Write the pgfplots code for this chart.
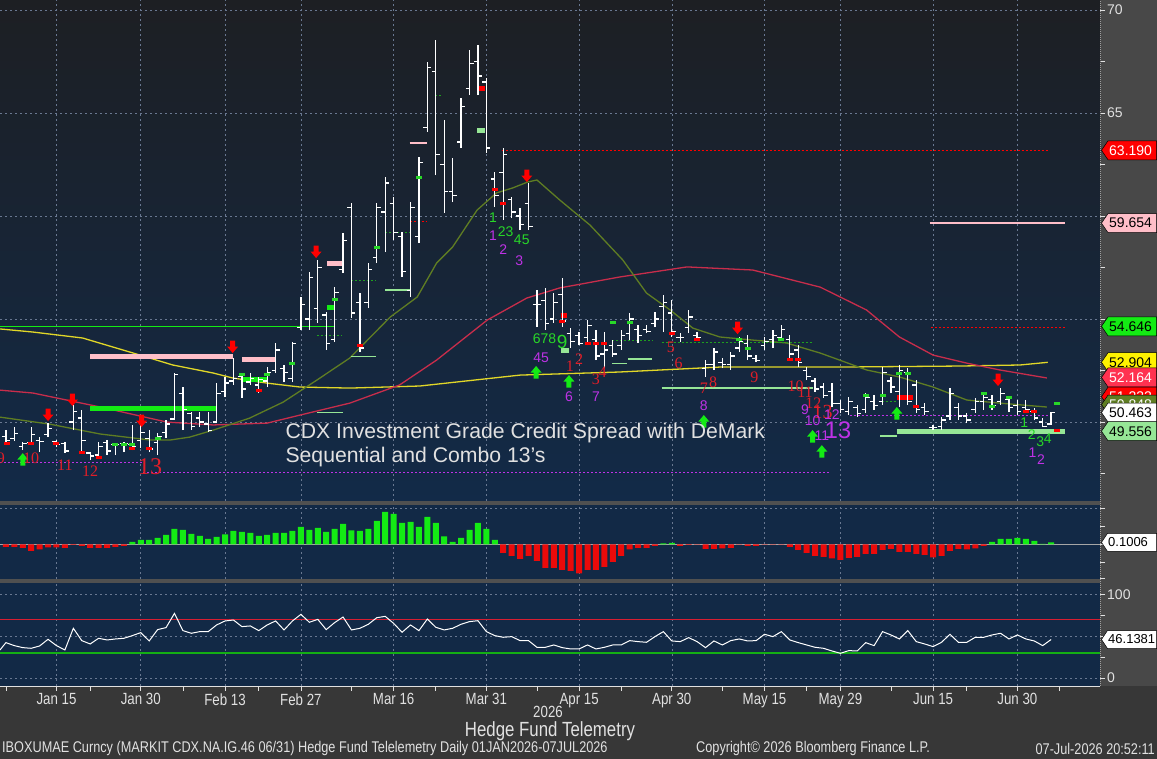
\documentclass[border=0pt]{standalone}
\usepackage{pgfplots}
\pgfplotsset{compat=1.18}
\usepackage{pgfplotstable}
\usepackage{fontspec}
\setmainfont{Liberation Sans}
\newfontfamily\condfont[FakeStretch=0.82]{Liberation Sans}
\newfontfamily\serfont{Liberation Serif}

\definecolor{bgtop}{RGB}{29,31,35}
\definecolor{bgbot}{RGB}{18,42,72}
\definecolor{navy}{RGB}{18,41,70}
\definecolor{frame}{RGB}{55,55,55}
\definecolor{strip}{RGB}{72,72,72}
\definecolor{sepc}{RGB}{80,80,80}
\definecolor{gridc}{RGB}{105,120,145}
\definecolor{maY}{RGB}{225,215,40}
\definecolor{maR}{RGB}{200,45,75}
\definecolor{maO}{RGB}{95,125,35}
\definecolor{tdred}{RGB}{225,30,40}
\definecolor{tdgreen}{RGB}{40,215,40}
\definecolor{tdmag}{RGB}{190,50,230}
\definecolor{hgreen}{RGB}{20,235,20}
\definecolor{hred}{RGB}{235,10,10}
\definecolor{lgreen}{RGB}{150,230,150}
\definecolor{pinkc}{RGB}{255,190,200}
\definecolor{txtc}{RGB}{225,225,225}
\definecolor{crim}{RGB}{255,50,80}
\definecolor{dgreen}{RGB}{30,160,30}
\definecolor{rsired}{RGB}{215,30,50}
\definecolor{rsigreen}{RGB}{20,175,20}

\newcommand{\tagfont}{\fontsize{14}{14}\selectfont}
\newcommand{\valtag}[4]{%
  \draw[draw=black, line width=0.5pt, fill=#2] (axis cs:129.8,#1) ++(1.5pt,0pt) -- ++(6.5pt,9.5pt) -- ++(48.5pt,0pt) -- ++(0pt,-19pt) -- ++(-48.5pt,0pt) -- cycle;
  \node[anchor=west, inner sep=0pt, xshift=9pt, text=#3, font=\tagfont] at (axis cs:129.8,#1) {#4};}
\newcommand{\valtagS}[4]{%
  \draw[draw=black, line width=0.5pt, fill=#2] (axis cs:129.8,#1) ++(1.5pt,0pt) -- ++(6pt,9pt) -- ++(49pt,0pt) -- ++(0pt,-18pt) -- ++(-49pt,0pt) -- cycle;
  \node[anchor=west, inner sep=0pt, xshift=8pt, text=#3, font=\fontsize{13}{13}\selectfont] at (axis cs:129.8,#1) {#4};}
\newcommand{\tdR}{\serfont\fontsize{16}{16}\selectfont}
\newcommand{\tdS}{\fontsize{14}{14}\selectfont}

\pgfdeclareplotmark{otick}{\pgfpathmoveto{\pgfqpoint{-4pt}{0pt}}\pgfpathlineto{\pgfqpoint{0pt}{0pt}}\pgfusepathqstroke}
\pgfdeclareplotmark{ctick}{\pgfpathmoveto{\pgfqpoint{0pt}{0pt}}\pgfpathlineto{\pgfqpoint{4pt}{0pt}}\pgfusepathqstroke}
\pgfdeclareplotmark{hbar}{\pgfpathrectangle{\pgfqpoint{-3pt}{-1.5pt}}{\pgfqpoint{6pt}{3pt}}\pgfusepathqfill}
\pgfdeclareplotmark{darrow}{%
 \pgfpathmoveto{\pgfqpoint{-2.5pt}{6.5pt}}\pgfpathlineto{\pgfqpoint{2.5pt}{6.5pt}}%
 \pgfpathlineto{\pgfqpoint{2.5pt}{0.5pt}}\pgfpathlineto{\pgfqpoint{5.5pt}{0.5pt}}%
 \pgfpathlineto{\pgfqpoint{0pt}{-6pt}}\pgfpathlineto{\pgfqpoint{-5.5pt}{0.5pt}}%
 \pgfpathlineto{\pgfqpoint{-2.5pt}{0.5pt}}\pgfpathclose\pgfusepathqfill}
\pgfdeclareplotmark{uarrow}{%
 \pgfpathmoveto{\pgfqpoint{-2.5pt}{-6.5pt}}\pgfpathlineto{\pgfqpoint{2.5pt}{-6.5pt}}%
 \pgfpathlineto{\pgfqpoint{2.5pt}{-0.5pt}}\pgfpathlineto{\pgfqpoint{5.5pt}{-0.5pt}}%
 \pgfpathlineto{\pgfqpoint{0pt}{6pt}}\pgfpathlineto{\pgfqpoint{-5.5pt}{-0.5pt}}%
 \pgfpathlineto{\pgfqpoint{-2.5pt}{-0.5pt}}\pgfpathclose\pgfusepathqfill}

\pgfplotstableread{
k h l o c
0 49.61 48.98 49.30 49.10
1 49.76 49.08 49.20 49.45
2 49.03 48.64 48.80 48.95
3 49.76 48.88 49.00 49.40
4 49.27 48.54 49.10 49.05
5 49.95 49.27 49.40 49.70
6 49.13 48.79 49.05 48.90
7 49.03 48.50 48.95 48.60
8 50.83 49.61 50.00 50.50
9 50.58 48.54 50.20 49.10
10 48.54 48.16 48.50 48.35
11 49.03 48.25 48.40 48.80
12 49.13 48.40 49.00 48.60
13 48.98 48.40 48.90 48.90
14 49.03 48.54 48.95 48.95
15 49.86 48.64 48.90 48.80
16 50.00 48.74 49.10 49.50
17 49.61 48.54 49.20 48.70
18 49.47 48.40 49.00 49.30
19 50.10 49.22 49.50 49.90
20 52.38 50.10 50.15 52.30
21 51.70 49.61 51.40 50.60
22 50.48 49.61 50.40 49.80
23 50.48 49.76 50.20 50.00
24 50.48 49.52 49.90 49.60
25 51.89 49.95 50.00 51.40
26 52.19 51.21 51.50 51.90
27 53.11 51.80 52.00 52.10
28 52.38 51.17 52.20 51.60
29 52.38 51.80 51.95 52.10
30 52.19 51.41 51.80 52.05
31 52.67 51.70 52.00 52.40
32 53.84 52.38 52.50 53.50
33 52.77 51.94 52.60 52.40
34 53.88 51.94 52.10 53.80
35 56.07 54.47 54.60 55.70
36 57.28 54.47 55.00 57.00
37 57.86 54.81 55.50 57.50
38 55.34 53.50 55.20 53.80
39 56.55 53.88 54.00 56.30
40 59.18 57.23 57.40 58.80
41 60.63 55.05 60.40 55.30
42 56.26 53.40 55.80 53.60
43 57.72 55.53 55.80 57.40
44 60.63 57.72 58.00 60.40
45 61.89 58.25 60.20 61.60
46 60.92 58.84 60.60 59.20
47 59.22 57.04 59.00 57.30
48 60.68 56.07 56.40 60.40
49 62.86 58.69 59.00 62.60
50 67.48 64.08 64.30 67.20
51 68.54 61.99 67.00 63.00
52 64.66 60.15 62.50 61.20
53 62.82 60.68 61.20 61.00
54 65.73 63.30 63.60 65.30
55 68.06 65.87 66.20 67.40
56 68.30 65.87 67.50 66.80
57 66.70 63.06 66.50 63.30
58 62.14 60.44 61.80 61.00
59 63.30 59.81 62.10 63.00
60 60.92 59.90 60.80 60.20
61 60.39 59.32 60.00 59.60
62 61.60 59.32 60.60 59.50
63 56.41 54.61 55.70 55.70
64 56.51 54.47 55.90 54.80
65 56.26 54.81 55.00 55.80
66 56.99 54.61 56.20 54.90
67 54.56 53.59 54.30 53.90
68 54.37 53.74 54.20 53.80
69 54.95 53.74 54.10 54.70
70 54.47 53.01 54.00 53.20
71 54.37 52.62 53.30 53.50
72 53.98 53.16 53.70 53.30
73 54.47 53.50 53.70 54.20
74 55.29 53.98 54.30 55.00
75 54.71 53.84 54.50 54.20
76 54.71 54.32 54.50 54.40
77 55.34 54.61 54.80 55.00
78 56.16 54.37 55.60 55.80
79 55.92 54.13 55.30 54.40
80 54.32 53.88 54.10 54.10
81 55.44 54.32 54.60 55.10
82 54.37 53.98 54.20 54.10
83 53.01 52.19 52.60 52.80
84 53.59 52.53 52.80 53.40
85 53.11 52.62 52.90 52.80
86 53.40 52.53 52.80 53.20
87 54.13 53.40 53.60 53.90
88 54.22 53.01 53.80 53.20
89 53.25 52.91 53.10 53.00
90 54.13 53.50 53.70 53.90
91 54.47 53.59 54.00 54.20
92 54.71 53.98 54.10 54.50
93 54.22 53.01 54.00 53.30
94 53.74 52.67 53.50 52.90
95 52.67 52.04 52.50 52.20
96 52.14 51.46 52.00 51.60
97 51.89 51.17 51.70 51.30
98 51.89 50.73 51.50 50.90
99 51.07 50.44 50.90 50.60
100 51.21 50.34 50.50 51.00
101 50.83 50.24 50.70 50.40
102 51.41 50.44 50.60 51.20
103 51.31 50.58 51.00 50.80
104 52.67 50.83 51.00 52.40
105 52.19 51.41 52.00 51.70
106 52.77 50.73 51.50 52.50
107 52.62 50.83 52.40 51.00
108 52.04 50.44 51.80 50.60
109 50.92 50.34 50.70 50.50
110 49.86 49.61 49.75 49.75
111 50.24 49.61 49.80 50.10
112 51.65 50.10 50.30 51.40
113 50.92 50.10 50.70 50.30
114 50.44 49.95 50.30 50.10
115 51.17 50.44 50.60 51.00
116 51.41 50.58 51.00 51.20
117 51.31 50.58 51.10 50.80
118 51.65 50.83 51.00 51.40
119 51.21 50.48 51.10 50.70
120 51.07 50.34 50.80 50.50
121 51.07 50.48 50.70 50.60
122 50.68 50.10 50.50 50.20
123 50.19 49.76 50.00 49.80
124 50.48 49.86 49.90 50.46
}\ohlc

\pgfplotstableread{
k v
0 -0.12
1 -0.12
2 -0.17
3 -0.32
4 -0.25
5 -0.15
6 -0.15
7 -0.17
8 -0.02
9 -0.07
10 -0.17
11 -0.17
12 -0.17
13 -0.12
14 -0.07
15 0.12
16 0.22
17 0.22
18 0.33
19 0.47
20 0.77
21 0.73
22 0.52
23 0.42
24 0.27
25 0.37
26 0.50
27 0.67
28 0.62
29 0.57
30 0.43
31 0.47
32 0.57
33 0.57
34 0.67
35 0.87
36 0.73
37 0.82
38 0.63
39 0.77
40 1.02
41 0.70
42 0.68
43 0.77
44 1.17
45 1.62
46 1.52
47 1.07
48 1.12
49 0.87
50 1.37
51 1.07
52 0.40
53 0.12
54 0.32
55 0.73
56 1.07
57 0.78
58 0.22
59 -0.42
60 -0.58
61 -0.72
62 -0.58
63 -0.83
64 -1.17
65 -1.17
66 -1.28
67 -1.33
68 -1.45
69 -1.28
70 -1.28
71 -1.12
72 -0.87
73 -0.58
74 -0.25
75 -0.17
76 -0.17
77 -0.07
78 0.05
79 0.08
80 -0.07
81 -0.02
82 -0.01
83 -0.23
84 -0.23
85 -0.20
86 -0.17
87 -0.01
88 -0.07
89 -0.07
90 -0.01
91 -0.01
92 -0.01
93 -0.12
94 -0.28
95 -0.42
96 -0.58
97 -0.62
98 -0.70
99 -0.78
100 -0.67
101 -0.62
102 -0.48
103 -0.48
104 -0.28
105 -0.23
106 -0.37
107 -0.37
108 -0.48
109 -0.53
110 -0.65
111 -0.57
112 -0.32
113 -0.23
114 -0.25
115 -0.20
116 -0.07
117 0.12
118 0.27
119 0.27
120 0.33
121 0.27
122 0.17
123 0.02
124 0.10
}\hist

\pgfplotstableread{
k v
-0.7 33.6
0 42.4
1 38.8
2 36.4
3 35.6
4 38.4
5 46.4
6 38.8
7 33.6
8 59.6
9 44.8
10 40.8
11 47.6
12 45.6
13 46.8
14 47.6
15 50.8
16 54.4
17 44.4
18 58.0
19 60.4
20 77.5
21 56.8
22 53.6
23 55.6
24 55.6
25 63.6
26 68.4
27 69.5
28 61.6
29 62.4
30 56.8
31 63.6
32 68.4
33 57.6
34 68.4
35 76.3
36 66.8
37 70.3
38 58.0
39 66.4
40 73.1
41 57.6
42 59.6
43 64.4
44 72.3
45 73.9
46 65.5
47 54.8
48 63.6
49 56.8
50 70.7
51 60.8
52 57.6
53 59.6
54 64.4
55 67.6
56 68.7
57 55.6
58 50.8
59 48.8
60 49.6
61 44.8
62 44.8
63 36.8
64 36.8
65 39.6
66 36.4
67 34.8
68 34.8
69 39.6
70 34.8
71 36.8
72 39.6
73 39.6
74 44.8
75 43.6
76 42.8
77 49.6
78 55.6
79 44.4
80 43.6
81 48.4
82 43.6
83 36.4
84 44.4
85 39.6
86 44.8
87 46.8
88 44.4
89 44.8
90 52.4
91 49.6
92 55.6
93 45.6
94 42.4
95 39.6
96 36.8
97 35.6
98 32.4
99 29.6
100 32.8
101 32.4
102 42.4
103 38.8
104 55.6
105 51.6
106 46.8
107 56.8
108 43.6
109 40.8
110 37.6
111 42.8
112 52.4
113 42.8
114 42.8
115 48.8
116 48.8
117 51.6
118 53.6
119 46.8
120 51.6
121 46.8
122 44.4
123 38.8
124 46.14
}\rsi

\pgfplotsset{
  panel/.style={
    anchor=south west, scale only axis, width=1100pt,
    xmin=-0.7, xmax=129.8, clip mode=individual,
    axis line style={draw=none},
    xtick={6,16,26,35,46,57,68,79,90,99,110,120},
    xmajorgrids,
    major grid style={gridc, dash pattern=on 2pt off 3pt, line width=0.6pt},
    tick align=outside, major tick length=5pt, minor tick length=5pt,
    every tick/.style={txtc, line width=0.8pt},
    ytick pos=right, yticklabel pos=right,
    /pgf/number format/assume math mode=true,
    yticklabel style={font=\tagfont, text=txtc, xshift=1pt, inner sep=1pt},
  }
}

\begin{document}
\begin{tikzpicture}[x=1pt,y=1pt]
\fill[frame] (0,0) rectangle (1157,759);
\fill[strip] (1100,73) rectangle (1157,759);
\shade[top color=bgtop, bottom color=bgbot] (0,258) rectangle (1100,759);
\fill[sepc] (0,254) rectangle (1100,258);
\fill[navy] (0,180) rectangle (1100,254);
\fill[sepc] (0,176) rectangle (1100,180);
\fill[navy] (0,73) rectangle (1100,176);

% ---------------- main price panel
\begin{axis}[panel, at={(0pt,258pt)}, height=501pt,
  ymin=46.17, ymax=70.485,
  xticklabels={}, xtick style={draw=none},
  ytick={50,55,60,65,70}, yticklabels={,,,65,70},
  minor ytick={47.5,52.5,57.5,62.5,67.5},
  ymajorgrids]
\addplot[maY, line width=1.3pt] coordinates {(-0.7,54.52) (3.2,54.37) (9.1,54.08) (15.1,53.35) (19.8,52.77) (24.6,52.38) (26.9,52.14) (31.0,51.89) (34.9,51.70) (40.8,51.65) (49.1,51.75) (61.0,52.28) (72.8,52.43) (84.7,52.67) (98.9,52.67) (113.2,52.72) (120.3,52.77) (123.6,52.90)};
\addplot[maR, line width=1.3pt] coordinates {(-0.7,51.55) (3.2,51.41) (11.2,50.73) (19.1,50.00) (24.6,49.86) (31.0,49.95) (34.9,50.34) (40.8,50.92) (46.7,51.80) (51.1,53.01) (57.1,54.95) (61.8,56.02) (65.7,56.51) (72.8,57.04) (80.8,57.53) (88.6,57.38) (96.6,56.55) (102.1,55.44) (106.0,54.13) (110.0,53.25) (114.0,52.86) (117.9,52.53) (123.5,52.14)};
\addplot[maO, line width=1.3pt] coordinates {(-0.7,50.24) (5.2,49.90) (11.2,49.42) (17.1,49.13) (19.5,49.13) (21.8,49.27) (24.6,49.61) (28.9,50.19) (32.9,50.97) (36.9,52.04) (40.8,53.11) (45.6,55.10) (48.8,56.07) (51.1,57.72) (53.0,58.50) (55.9,60.29) (58.2,61.12) (60.1,61.36) (61.9,61.65) (63.0,61.75) (65.7,60.78) (69.3,59.56) (73.2,57.86) (76.0,56.26) (78.8,55.44) (81.5,54.56) (84.7,54.13) (88.6,53.98) (92.6,53.84) (96.6,53.35) (98.9,53.01) (102.1,52.53) (106.0,52.19) (110.0,51.70) (114.0,51.07) (117.9,50.92) (123.5,50.73)};
% level lines
\addplot[hgreen, line width=1pt] coordinates {(-0.7,54.646) (39,54.646)};
\addplot[red, dash pattern=on 2pt off 2pt, line width=0.9pt] coordinates {(58.8,63.19) (123.6,63.19)};
\addplot[red, dash pattern=on 2pt off 2pt, line width=0.9pt] coordinates {(109.8,54.61) (125.6,54.61)};
\addplot[red, dash pattern=on 2pt off 2pt, line width=0.9pt] coordinates {(47.9,59.76) (49.9,59.76)};
\addplot[pinkc, line width=1.5pt] coordinates {(109.6,59.654) (125.6,59.654)};
\addplot[pinkc, line width=1.5pt] coordinates {(47.9,63.54) (49.9,63.54)};
\addplot[tdmag, dash pattern=on 2pt off 2pt, line width=1pt] coordinates {(-0.7,48.06) (16.3,48.06)};
\addplot[tdmag, dash pattern=on 2pt off 2pt, line width=1pt] coordinates {(16.3,47.53) (97.7,47.53)};
\addplot[tdmag, dash pattern=on 2pt off 2pt, line width=1pt] coordinates {(100.1,50.34) (123.6,50.34)};
\addplot[dgreen, dash pattern=on 2pt off 2pt, line width=1pt, unbounded coords=jump] coordinates {(41.0,56.89) (43.9,56.89) (44,nan) (45.0,59.18) (47.9,59.18) (48,nan) (36.9,54.18) (39.9,54.18) (40,nan) (71.9,53.98) (76.7,53.98) (77,nan) (77.8,53.88) (95.6,53.88) (96,nan) (103.9,51.02) (105.7,51.02) (106,nan) (50.9,65.83) (51.6,65.83)};
\addplot[lgreen, line width=1.2pt, unbounded coords=jump] coordinates {(41.0,53.20) (43.9,53.20) (44,nan) (45.0,56.41) (47.9,56.41) (48,nan) (71.9,52.86) (73.7,52.86) (73.75,nan) (73.8,53.06) (76.7,53.06) (77,nan) (77.8,51.65) (95.7,51.65) (96,nan) (103.7,49.32) (105.7,49.32) (106,nan) (36.9,50.48) (40.0,50.48)};
% thick bars
\addplot[pinkc, line width=5pt, unbounded coords=jump] coordinates {(9.96,53.16) (26.9,53.16) (27,nan) (28.0,53.06) (31.9,53.06) (32,nan) (38.1,57.72) (39.9,57.72)};
\addplot[hgreen, line width=5pt, unbounded coords=jump] coordinates {(9.96,50.68) (25.0,50.68) (26,nan) (28.0,52.09) (31.0,52.09) (32,nan) (38.1,55.58) (38.9,55.58)};
\addplot[lgreen, line width=5pt, unbounded coords=jump] coordinates {(55.9,64.13) (56.8,64.13) (57,nan) (65.8,53.45) (66.8,53.45) (67,nan) (105.7,49.556) (125.6,49.556)};
\addplot[red, line width=5pt, unbounded coords=jump] coordinates {(55.9,66.21) (56.8,66.21) (57,nan) (65.8,55.19) (66.6,55.19) (67,nan) (105.7,51.17) (107.6,51.17)};
% OHLC bars
\addplot[draw=none, mark=none, error bars/.cd, y dir=plus, y explicit, error mark=none, error bar style={draw=white, solid, line width=1.3pt}] table[x=k, y=l, y error expr=\thisrow{h}-\thisrow{l}] {\ohlc};
\addplot[white, only marks, mark=otick, mark options={line width=1.3pt}] table[x=k, y=o] {\ohlc};
\addplot[white, only marks, mark=ctick, mark options={line width=1.3pt}] table[x=k, y=c] {\ohlc};
% small marks
\addplot[red, only marks, mark=hbar] coordinates {(0.1,48.98) (3,48.98) (6,48.98) (9,48.50) (11,48.30) (15,48.74) (17,48.74) (30,51.51) (42,53.74) (58,61.31) (59,60.63) (66,54.86) (69,53.79) (70,53.79) (71,53.79) (79,54.32) (82,54.03) (93,53.06) (94,53.06) (108,50.78) (121,50.53) (122,50.53) (124.7,49.61)};
\addplot[tdgreen, only marks, mark=hbar] coordinates {(13,48.93) (14,48.93) (15,48.93) (18,49.22) (28,52.33) (31,52.33) (34,52.82) (39,55.97) (44,58.45) (49,61.89) (72,54.81) (74,54.81) (87,54.03) (88,53.59) (92,54.03) (102,51.31) (104,51.31) (106,52.38) (107,52.38) (116,51.41) (117,50.78) (119,51.17) (124.7,50.92)};
% arrows
\addplot[red, only marks, mark=darrow] coordinates {(5.0,50.34) (7.9,51.07) (16.1,50.05) (26.9,53.64) (36.8,58.25) (61.8,61.94) (86.8,54.56) (117.7,52.04)};
\addplot[hgreen, only marks, mark=uarrow] coordinates {(2.0,48.20) (62.9,52.43) (66.8,51.99) (82.8,50.05) (95.7,49.32) (96.8,48.59) (105.7,50.44)};
% TD counts: red
\node[overlay, text=tdred, font=\tdR] at (axis cs:-0.6,48.25) {9};
\node[text=tdred, font=\tdR] at (axis cs:3.0,48.25) {10};
\node[text=tdred, font=\tdR] at (axis cs:7.0,47.91) {11};
\node[text=tdred, font=\tdR] at (axis cs:10.0,47.62) {12};
\node[text=tdred, font=\serfont\fontsize{24}{24}\selectfont] at (axis cs:17.1,47.82) {13};
\node[text=tdred, font=\tdR] at (axis cs:66.9,52.72) {1};
\node[text=tdred, font=\tdR] at (axis cs:68.0,53.06) {2};
\node[text=tdred, font=\tdR] at (axis cs:70.0,52.09) {3};
\node[text=tdred, font=\tdR] at (axis cs:70.8,52.43) {4};
\node[text=tdred, font=\tdR] at (axis cs:78.9,53.64) {5};
\node[text=tdred, font=\tdR] at (axis cs:79.8,52.86) {6};
\node[text=tdred, font=\tdR] at (axis cs:82.8,51.65) {7};
\node[text=tdred, font=\tdR] at (axis cs:83.9,51.94) {8};
\node[text=tdred, font=\tdR] at (axis cs:88.8,52.19) {9};
\node[text=tdred, font=\tdR] at (axis cs:93.7,51.75) {10};
\node[text=tdred, font=\tdR] at (axis cs:94.8,51.46) {11};
\node[text=tdred, font=\tdR] at (axis cs:95.8,50.92) {12};
\node[text=tdred, font=\serfont\fontsize{20}{20}\selectfont] at (axis cs:96.9,50.48) {13};
% green
\node[text=tdgreen, font=\tdS] at (axis cs:57.8,59.90) {1};
\node[text=tdgreen, font=\tdS] at (axis cs:59.3,59.22) {23};
\node[text=tdgreen, font=\tdS] at (axis cs:61.2,58.84) {45};
\node[text=tdgreen, font=\tdS] at (axis cs:63.9,54.03) {678};
\node[text=tdgreen, font=\fontsize{19}{19}\selectfont] at (axis cs:66.0,53.88) {9};
\node[text=tdgreen, font=\tdS] at (axis cs:120.8,49.95) {1};
\node[text=tdgreen, font=\tdS] at (axis cs:121.7,49.37) {2};
\node[text=tdgreen, font=\tdS] at (axis cs:122.7,49.03) {3};
\node[text=tdgreen, font=\tdS] at (axis cs:123.6,49.18) {4};
% magenta
\node[text=tdmag, font=\tdS] at (axis cs:57.8,59.03) {1};
\node[text=tdmag, font=\tdS] at (axis cs:59.0,58.35) {2};
\node[text=tdmag, font=\tdS] at (axis cs:60.9,57.82) {3};
\node[text=tdmag, font=\tdS] at (axis cs:63.5,53.11) {45};
\node[text=tdmag, font=\tdS] at (axis cs:66.8,51.21) {6};
\node[text=tdmag, font=\tdS] at (axis cs:70.0,51.21) {7};
\node[text=tdmag, font=\tdS] at (axis cs:82.8,50.78) {8};
\node[text=tdmag, font=\tdS] at (axis cs:94.8,50.58) {9};
\node[text=tdmag, font=\tdS] at (axis cs:95.7,50.05) {10};
\node[text=tdmag, font=\tdS] at (axis cs:96.8,49.32) {11};
\node[text=tdmag, font=\tdS] at (axis cs:98.0,50.34) {12};
\node[text=tdmag, font=\fontsize{24}{24}\selectfont] at (axis cs:98.7,49.61) {13};
\node[text=tdmag, font=\tdS] at (axis cs:121.8,48.50) {1};
\node[text=tdmag, font=\tdS] at (axis cs:122.8,48.20) {2};
% value tags
\valtag{63.19}{red}{white}{63.190}
\valtag{59.654}{pinkc}{black}{59.654}
\valtag{54.646}{hgreen}{black}{54.646}
\valtag{52.904}{yellow}{black}{52.904}
\valtag{52.164}{crim}{white}{52.164}
\valtag{51.232}{red}{white}{51.232}
\valtag{50.848}{maO}{white}{50.848}
\valtag{50.463}{white}{black}{50.463}
\valtag{49.556}{lgreen}{black}{49.556}
\end{axis}

% ---------------- histogram panel
\begin{axis}[panel, at={(0pt,180pt)}, height=74pt,
  ymin=-1.73, ymax=1.97,
  xticklabels={}, xtick style={draw=none},
  ytick={-1.7,-0.9,0,0.9,1.8}, yticklabels={}]
\draw[gridc, dash pattern=on 2pt off 3pt, line width=0.6pt] (axis cs:-0.7,1.8) -- (axis cs:129.8,1.8);
\draw[white!65!black, line width=0.8pt] (axis cs:-0.7,0) -- (axis cs:129.8,0);
\addplot[ybar, bar width=6pt, bar shift=0pt, fill=hgreen, draw=none, restrict y to domain=0:5] table[x=k, y=v] {\hist};
\addplot[ybar, bar width=6pt, bar shift=0pt, fill=hred, draw=none, restrict y to domain=-5:0] table[x=k, y=v] {\hist};
\valtagS{0.1006}{white}{black}{0.1006}
\end{axis}

% ---------------- oscillator panel
\begin{axis}[panel, at={(0pt,73pt)}, height=103pt,
  ymin=-9.6, ymax=113.9,
  xticklabels={Jan 15,Jan 30,Feb 13,Feb 27,Mar 16,Mar 31,Apr 15,Apr 30,May 15,May 29,Jun 15,Jun 30},
  minor xtick={0,10,21,30,41,51,63,73,85,95,105,114,125},
  xtick pos=bottom,
  xticklabel style={font=\condfont\fontsize{16.2}{16.2}\selectfont, text=txtc, yshift=1pt},
  ytick={0,50,100}, yticklabels={0,,100}, minor ytick={25,75},
  ymajorgrids]
\addplot[rsired, line width=1.2pt] coordinates {(-0.7,70) (129.8,70)};
\addplot[rsigreen, line width=1.2pt] coordinates {(-0.7,30) (129.8,30)};
\addplot[white, line width=1pt] table[x=k, y=v] {\rsi};
\valtagS{46.1381}{white}{black}{46.1381}
\end{axis}

\draw[txtc, line width=0.8pt] (0,73) -- (1100,73);
\draw[txtc!70!black, dash pattern=on 1pt off 1pt, line width=0.6pt] (1100,73) -- (1100,759);

% title
\node[anchor=west, text=txtc, font=\fontsize{21.2}{21.2}\selectfont] at (282,326) {CDX Investment Grade Credit Spread with DeMark};
\node[anchor=west, text=txtc, font=\fontsize{21.2}{21.2}\selectfont] at (282,302) {Sequential and Combo 13's};

% bottom texts
\node[text=txtc, font=\condfont\fontsize{16.2}{16.2}\selectfont] at (548,47) {2026};
\node[text=txtc, font=\condfont\fontsize{20.5}{20.5}\selectfont] at (550,28) {Hedge Fund Telemetry};
\node[anchor=west, inner sep=1pt, text=txtc, font=\condfont\fontsize{15.5}{15.5}\selectfont] at (1,10.5) {IBOXUMAE Curncy (MARKIT CDX.NA.IG.46 06/31) Hedge Fund Telelemetry Daily 01JAN2026-07JUL2026};
\node[anchor=west, inner sep=1pt, text=txtc, font=\condfont\fontsize{15.5}{15.5}\selectfont] at (695,10.5) {Copyright© 2026 Bloomberg Finance L.P.};
\node[anchor=east, inner sep=1pt, text=txtc, font=\condfont\fontsize{15.5}{15.5}\selectfont] at (1156,10.5) {07-Jul-2026 20:52:11};

\pgfresetboundingbox
\path[use as bounding box] (0,0) rectangle (1157,759);
\end{tikzpicture}
\end{document}
